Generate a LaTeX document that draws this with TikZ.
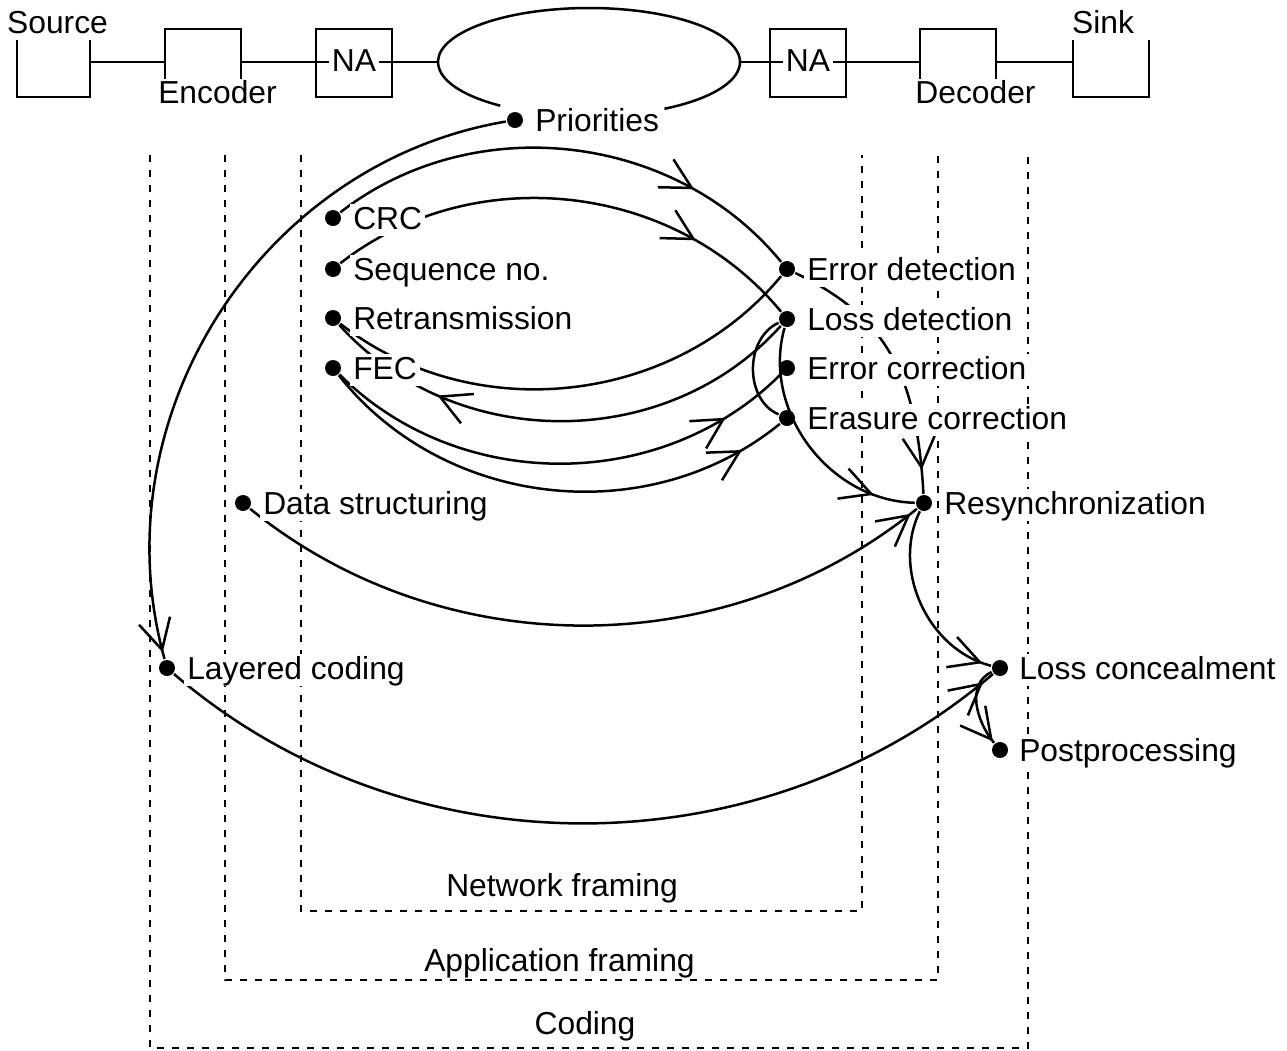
\documentclass[tikz,border=0pt]{standalone}
\usepackage{fontspec}
\setmainfont{Liberation Sans}
\usetikzlibrary{arrows.meta,decorations.markings}
\begin{document}
\begin{tikzpicture}[x=0.5pt,y=-0.5pt,line width=1.25pt,
  every node/.style={font=\fontsize{15.9pt}{19pt}\selectfont},
  dotnode/.style={circle,fill=black,inner sep=0pt,minimum size=8pt},
  lbl/.style={anchor=base west,fill=white,inner xsep=1.5pt,inner ysep=0.5pt,text height=11.9pt,text depth=3.2pt},
  plain/.style={anchor=base,inner sep=1pt},
  natext/.style={anchor=base,fill=white,inner xsep=1.5pt,inner ysep=0.5pt},
  framepath/.style={line width=1.1pt,dash pattern=on 3.5pt off 4pt},
  nabox/.style={draw,minimum width=38pt,minimum height=34pt,inner sep=0pt},
  barb/.style={postaction={decorate},decoration={markings,
    mark=at position #1 with {\arrow{Straight Barb[length=15pt,width=16pt]}}}}
]
\useasboundingbox (0,0) rectangle (1287,1051);

% layer frames
\draw[framepath] (150,155) -- (150,1048) -- (1028,1048) -- (1028,155);
\draw[framepath] (225,155) -- (225,980) -- (938,980) -- (938,155);
\draw[framepath] (301,155) -- (301,911) -- (862,911) -- (862,155);
\node[plain] (t-net) at (562,896) {Network framing};
\node[plain] (t-app) at (559.5,971) {Application framing};
\node[plain] (t-cod) at (585,1034) {Coding};

% transmission chain
\coordinate (src-r) at (90,62);
\coordinate (enc-l) at (165,62);
\coordinate (enc-r) at (241,62);
\coordinate (net-l) at (438,62);
\coordinate (net-r) at (740,62);
\coordinate (dec-l) at (920,62);
\coordinate (dec-r) at (996,62);
\coordinate (snk-l) at (1073,62);
\draw (src-r) -- (enc-l);
\draw (enc-r) -- (net-l);
\draw (net-r) -- (dec-l);
\draw (dec-r) -- (snk-l);
\draw (17,40) -- (17,97) -- (90,97) -- (90,40);
\draw (165,97) -- (165,29) -- (241,29) -- (241,97);
\draw (920,97) -- (920,29) -- (996,29) -- (996,97);
\draw (1073,40) -- (1073,97) -- (1149,97) -- (1149,40);
\draw (589,62) ++(126:151 and 54) arc[start angle=126,end angle=420,x radius=151,y radius=54];
\node[nabox] (na-in) at (354,63) {};
\node[nabox] (na-out) at (808,63) {};
\node[natext] (t-na-in) at (354,71) {NA};
\node[natext] (t-na-out) at (808,71) {NA};
\node[plain] (t-src) at (57.5,33) {Source};
\node[plain] (t-snk) at (1103,33) {Sink};
\node[natext] (t-enc) at (217.5,103) {Encoder};
\node[natext] (t-dec) at (975.5,103) {Decoder};

% mechanisms
\node[dotnode] (pri)  at (515,120) {};
\node[dotnode] (crc)  at (333,218) {};
\node[dotnode] (seq)  at (333,269) {};
\node[dotnode] (ret)  at (333,318) {};
\node[dotnode] (fec)  at (333,368) {};
\node[dotnode] (edet) at (787,269) {};
\node[dotnode] (ldet) at (787,319) {};
\node[dotnode] (ecor) at (787,368) {};
\node[dotnode] (erco) at (787,418) {};
\node[dotnode] (dstr) at (243,503) {};
\node[dotnode] (rsyn) at (924,503) {};
\node[dotnode] (lcod) at (167,668) {};
\node[dotnode] (lcon) at (1000,668) {};
\node[dotnode] (post) at (1000,750) {};

% dependencies
\draw[barb=-3.5pt] (pri) .. controls (259.6,163.2) and (97.8,418.3) .. (lcod);
\draw[barb=-57pt] (crc) .. controls (473.2,109.3) and (674.4,131.9) .. (edet);
\draw[barb=-56pt] (seq) .. controls (472.9,159.7) and (674.3,181.8) .. (ldet);
\draw (ret) .. controls (472.7,427.5) and (673.9,405.7) .. (edet);
\draw[barb=-61pt] (ldet) .. controls (665.7,453.6) and (454.3,452.6) .. (ret);
\draw[barb=-35pt] (fec) .. controls (458.4,493.4) and (661.6,493.4) .. (ecor);
\draw[barb=-23pt] (fec) .. controls (443.8,508.5) and (648.3,531.1) .. (erco);
\draw (ldet) .. controls (744.4,338.3) and (744.4,399.7) .. (erco);
\draw[barb=-21pt] (ldet) .. controls (761.4,410.1) and (828.4,500.7) .. (rsyn);
\draw[barb=-12pt] (edet) .. controls (886,316.3) and (916.5,373) .. (rsyn);
\draw[barb=-4pt] (dstr) .. controls (441.7,664.5) and (725.3,664.5) .. (rsyn);
\draw[barb=-6.5pt] (lcod) .. controls (406.2,873.2) and (759.8,873.2) .. (lcon);
\draw[barb=-4.5pt] (rsyn) .. controls (891.1,569.6) and (928,649.8) .. (lcon);
\draw[barb=-1pt] (lcon) .. controls (966,684) and (976,721) .. (post);

% labels
\node[lbl] (t-pri)  at (531,131) {Priorities};
\node[lbl] (t-crc)  at (349,229) {CRC};
\node[lbl] (t-seq)  at (349,280) {Sequence no.};
\node[lbl] (t-ret)  at (349,329) {Retransmission};
\node[lbl] (t-fec)  at (349,379) {FEC};
\node[lbl] (t-edet) at (803,280) {Error detection};
\node[lbl] (t-ldet) at (803,330) {Loss detection};
\node[lbl] (t-ecor) at (803,379) {Error correction};
\node[lbl] (t-erco) at (803,429) {Erasure correction};
\node[lbl] (t-dstr) at (259,514) {Data structuring};
\node[lbl] (t-rsyn) at (940,514) {Resynchronization};
\node[lbl] (t-lcod) at (183,679) {Layered coding};
\node[lbl] (t-lcon) at (1015,679) {Loss concealment};
\node[lbl] (t-post) at (1015,761) {Postprocessing};
\end{tikzpicture}
\end{document}
